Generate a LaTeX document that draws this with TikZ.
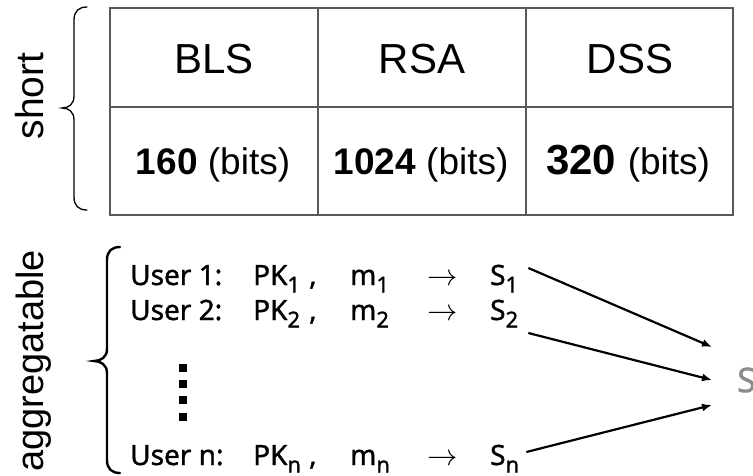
\documentclass[tikz,border=0pt]{standalone}
\usepackage{fontspec}
\usepackage{graphicx}
\setmainfont{Liberation Sans}
\newfontfamily\ufont[FakeBold=1.2]{Noto Sans}
\usetikzlibrary{arrows.meta,calc}
\newcommand{\sbx}[1]{\raisebox{-7.5pt}[\height][0pt]{\fontsize{22}{22}\selectfont#1}}
\newcommand{\rarr}{\scalebox{1.22}{$\rightarrow$}}
\begin{document}
\begin{tikzpicture}[x=1pt,y=-1pt,
  grid/.style={draw=black!65, line width=1.3pt},
  hdr/.style={inner sep=0pt, anchor=base, font=\fontsize{42}{48}\selectfont},
  val/.style={inner sep=0pt, anchor=base},
  side/.style={inner sep=0pt, anchor=base, rotate=90},
  usr/.style={inner sep=0pt, anchor=base west, font=\ufont\fontsize{28}{32}\selectfont},
  arrs/.style={inner sep=0pt, anchor=base west, font=\fontsize{24.88}{30}\selectfont},
  arr/.style={line width=2.2pt, -{Latex[length=10pt,width=8pt]}},
  brc/.style={line width=1.3pt, line cap=round}
  ]
\useasboundingbox (0,0) rectangle (753,475);
% table
\draw[grid] (110,8) rectangle (733,215);
\draw[grid] (110,107) -- (733,107);
\draw[grid] (318,8) -- (318,215);
\draw[grid] (526,8) -- (526,215);
\node[hdr] (bls) at (214,73) {BLS};
\node[hdr] (rsa) at (422,73) {RSA};
\node[hdr] (dss) at (630,73) {DSS};
\node[val] (v1) at (213,174) {\fontsize{37}{44}\selectfont\textbf{160} (bits)};
\node[val] (v2) at (421,174) {\fontsize{37}{44}\selectfont\textbf{1024} (bits)};
\node[val] (v3) at (628,174) {\fontsize{42}{48}\selectfont\textbf{320} \fontsize{37}{44}\selectfont(bits)};
% side labels
\node[side, font=\fontsize{39}{44}\selectfont] (short) at (43,96) {short};
\node[side, font=\fontsize{38}{44}\selectfont] (aggl) at (43,361) {aggregatable};
% braces
\draw[brc] (87,7) .. controls (79,7) and (74,11) .. (74,20) -- (74,96) .. controls (74,104) and (69,108) .. (62,108) .. controls (69,108) and (74,112) .. (74,120) -- (74,197) .. controls (74,206) and (79,210) .. (87,210);
\draw[brc, line width=2.4pt] (120,247) .. controls (112,247) and (107,251) .. (107,260) -- (107,349) .. controls (107,357) and (101,361) .. (94,361) .. controls (101,361) and (107,365) .. (107,373) -- (107,460) .. controls (107,469) and (112,473) .. (120,473);
% rows
\node[usr] (u1) at (130,285) {User 1:};
\node[usr] (pk1) at (253,285) {PK\sbx{1}};
\node[usr] (c1) at (309,285) {,};
\node[usr] (m1) at (350,285) {m\sbx{1}};
\node[arrs] (a1) at (427,285) {\rarr};
\node[usr] (s1) at (490,285) {S\sbx{1}};
\node[usr] (u2) at (130,320) {User 2:};
\node[usr] (pk2) at (253,320) {PK\sbx{2}};
\node[usr] (c2) at (309,320) {,};
\node[usr] (m2) at (350,320) {m\sbx{2}};
\node[arrs] (a2) at (427,320) {\rarr};
\node[usr] (s2) at (490,320) {S\sbx{2}};
\node[usr] (un) at (130,465) {User n:};
\node[usr] (pkn) at (253,465) {PK\sbx{n}};
\node[usr] (cn) at (309,465) {,};
\node[usr] (mn) at (350,465) {m\sbx{n}};
\node[arrs] (an) at (427,465) {\rarr};
\node[usr] (sn) at (490,465) {S\sbx{n}};
% vertical dots
\foreach \yy in {368,384,400,417} \fill (179,\yy-4) rectangle (187,\yy+4);
% aggregate
\node[anchor=west, inner sep=0pt, text=black!45, font=\ufont\fontsize{34}{40}\selectfont] (agg) at (737,380) {S};
\draw[arr] ([shift={(10,-17)}]s1.base east) -- ([shift={(-25,-33)}]agg.west);
\draw[arr] ([shift={(10,13)}]s2.base east) -- ([shift={(-25,0)}]agg.west);
\draw[arr] ([shift={(7,-13)}]sn.base east) -- ([shift={(-25,25)}]agg.west);
\end{tikzpicture}
\end{document}
